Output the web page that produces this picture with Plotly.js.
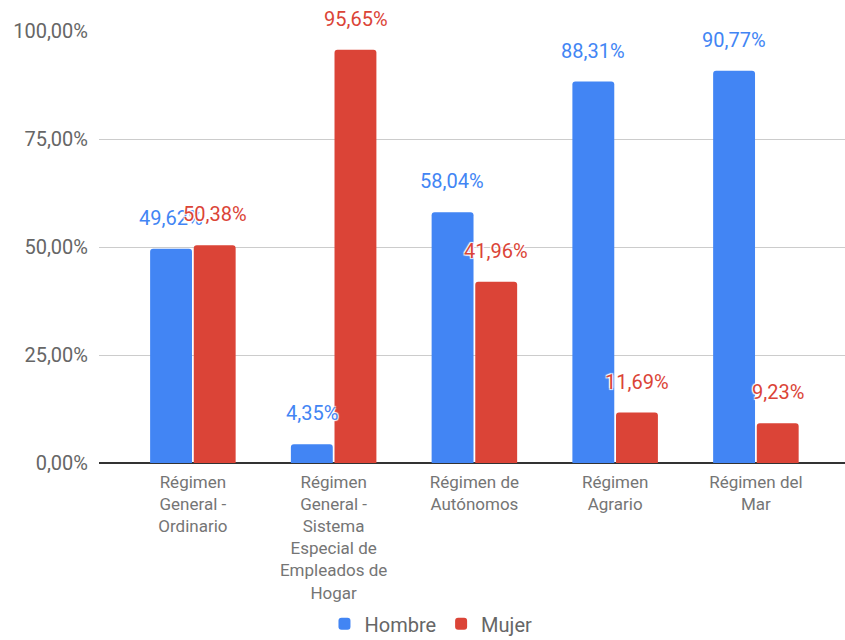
<!DOCTYPE html>
<html><head><meta charset="utf-8">
<script src="https://cdn.plot.ly/plotly-3.0.1.min.js"></script>
<style>html,body{margin:0;padding:0;background:#fff}#chart{width:845px;height:640px}</style>
</head><body><div id="chart"></div>
<script>
const categories = [
  "Régimen<br>General -<br>Ordinario",
  "Régimen<br>General -<br>Sistema<br>Especial de<br>Empleados de<br>Hogar",
  "Régimen de<br>Autónomos",
  "Régimen<br>Agrario",
  "Régimen del<br>Mar"
];
const hombre = [49.62, 4.35, 58.04, 88.31, 90.77];
const mujer = [50.38, 95.65, 41.96, 11.69, 9.23];
const seriesNames = ["Hombre", "Mujer"];
const colors = ["#4285F4", "#DB4437"];
const yTicks = [0, 25, 50, 75, 100];
const yTickLabels = ["0,00%", "25,00%", "50,00%", "75,00%", "100,00%"];

const fmt = v => v.toFixed(2).replace('.', ',') + '%';
const FONT = 'Roboto, "Open Sans", sans-serif';

const traces = [hombre, mujer].map((vals, i) => ({
  type: 'bar', name: seriesNames[i], x: categories, y: vals,
  marker: {color: colors[i]}, hoverinfo: 'none'
}));

const annotations = [];
[hombre, mujer].forEach((vals, i) => {
  vals.forEach((v, j) => {
    annotations.push({
      x: categories[j], y: v, xref: 'x', yref: 'y',
      text: fmt(v), showarrow: false,
      xshift: i === 0 ? -22 : 22, yshift: 31,
      yanchor: 'middle', xanchor: 'center',
      font: {family: FONT, size: 20, color: colors[i], shadow: '1px 1px 1px #fff, -1px -1px 1px #fff, 1px -1px 1px #fff, -1px 1px 1px #fff'}
    });
  });
});

const layout = {
  width: 845, height: 640,
  margin: {l: 99, r: 0, t: 31, b: 177, autoexpand: false},
  paper_bgcolor: '#fff', plot_bgcolor: '#fff',
  barmode: 'group', bargap: 0.38, bargroupgap: 0.04, barcornerradius: 3,
  font: {family: FONT, size: 18, color: '#666'},
  xaxis: {
    type: 'category', range: [-0.667, 4.633], automargin: false,
    showgrid: false, showline: false, zeroline: false, ticks: '',
    ticklabelstandoff: 7,
    tickfont: {family: FONT, size: 17, color: '#757575'},
    tickangle: 0, fixedrange: true
  },
  yaxis: {
    range: [0, 100], tickmode: 'array', tickvals: yTicks, ticktext: yTickLabels,
    automargin: false,
    showgrid: true, gridcolor: '#cccccc', gridwidth: 1,
    zeroline: true, zerolinecolor: '#333333', zerolinewidth: 1.5,
    showline: false, ticks: '', ticklabelstandoff: 10,
    tickfont: {family: FONT, size: 20, color: '#666'}, fixedrange: true
  },
  showlegend: true,
  legend: {
    orientation: 'h', x: 0.445, xanchor: 'center', y: -0.372, yanchor: 'middle',
    font: {family: FONT, size: 20, color: '#666'}, itemwidth: 30
  },
  annotations: annotations
};

Plotly.newPlot('chart', traces, layout, {displayModeBar: false, staticPlot: true});
</script></body></html>
